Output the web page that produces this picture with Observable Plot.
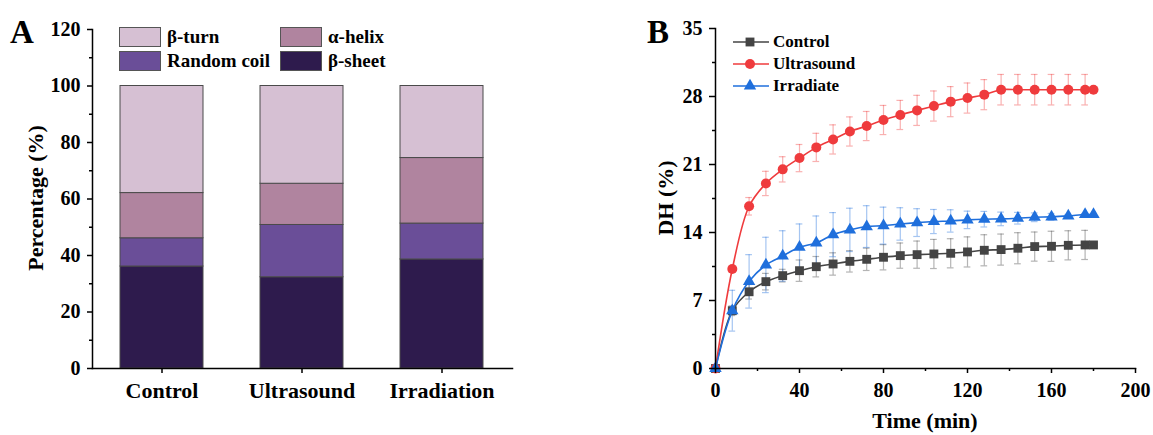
<!DOCTYPE html>
<html><head><meta charset="utf-8">
<script src="https://cdn.jsdelivr.net/npm/d3@7"></script>
<script src="https://cdn.jsdelivr.net/npm/@observablehq/plot@0.6"></script>
<style>
body{margin:0;background:#fff;}
#wrap{position:relative;width:1153px;height:435px;font-family:"Liberation Serif","Times New Roman",serif;font-weight:bold;color:#000;}
#wrap svg{position:absolute;top:0;}
.leg{position:absolute;display:flex;align-items:center;white-space:nowrap;}
</style></head><body><div id="wrap"></div>
<script>
// ---------- Panel A data ----------
const categories = ["Control", "Ultrasound", "Irradiation"];
const structures = ["β-sheet", "Random coil", "α-helix", "β-turn"];
const betaSheet  = [36.1, 32.3, 38.6];
const randomCoil = [10.0, 18.5, 12.7];
const alphaHelix = [16.0, 14.6, 23.2];
const betaTurn   = [37.9, 34.6, 25.5];
const structureColors = ["#2e1b4d", "#6a4e98", "#b0849f", "#d6c0d3"];
const legendOrderA = ["β-turn", "α-helix", "Random coil", "β-sheet"];
const yTicksA = [0, 20, 40, 60, 80, 100, 120];
const yMinorA = [10, 30, 50, 70, 90, 110];

// ---------- Panel B data ----------
const times = [0, 8, 16, 24, 32, 40, 48, 56, 64, 72, 80, 88, 96, 104, 112, 120, 128, 136, 144, 152, 160, 168, 176, 180];
const controlDH    = [0, 5.95, 7.9, 8.94, 9.56, 10.07, 10.48, 10.76, 11.03, 11.24, 11.45, 11.62, 11.72, 11.79, 11.86, 12.0, 12.17, 12.24, 12.38, 12.55, 12.58, 12.68, 12.72, 12.72];
const controlSD    = [0, 0.5, 0.75, 0.85, 0.65, 1.1, 1.05, 1.15, 1.1, 1.15, 1.3, 1.3, 1.4, 1.5, 1.5, 1.55, 1.6, 1.6, 1.6, 1.5, 1.55, 1.5, 1.5, 0];
const ultrasoundDH = [0, 10.24, 16.7, 19.05, 20.5, 21.66, 22.76, 23.58, 24.4, 24.96, 25.58, 26.1, 26.57, 27.02, 27.47, 27.84, 28.19, 28.7, 28.7, 28.7, 28.7, 28.7, 28.7, 28.7];
const ultrasoundSD = [0, 0.3, 0.9, 1.25, 1.3, 1.4, 1.45, 1.5, 1.5, 1.5, 1.5, 1.5, 1.55, 1.55, 1.55, 1.55, 1.55, 1.57, 1.57, 1.57, 1.57, 1.57, 1.57, 0];
const irradiateDH  = [0, 5.95, 8.97, 10.66, 11.58, 12.48, 12.93, 13.78, 14.27, 14.61, 14.71, 14.88, 15.02, 15.13, 15.19, 15.3, 15.37, 15.4, 15.47, 15.57, 15.61, 15.71, 15.85, 15.85];
const irradiateSD  = [0, 2.1, 2.75, 2.85, 2.6, 2.4, 2.77, 2.27, 2.23, 2.15, 1.9, 1.67, 1.43, 1.24, 1.15, 0.9, 0.8, 0.7, 0.6, 0.45, 0.35, 0.15, 0.1, 0];
const seriesNames  = ["Control", "Ultrasound", "Irradiate"];
const seriesColors = ["#444444", "#ef3b3d", "#1f6fdc"];
const seriesSymbols = ["square", "circle", "triangle"];
const seriesR = [5, 5, 4.6];
const xTicksB = [0, 40, 80, 120, 160, 200];
const xMinorB = [20, 60, 100, 140, 180];
const yTicksB = [0, 7, 14, 21, 28, 35];
const yMinorB = [3.5, 10.5, 17.5, 24.5, 31.5];

const serif = '"Liberation Serif","Times New Roman",serif';
const wrap = document.getElementById("wrap");

// ---------- Panel A ----------
const tableA = [];
[betaSheet, randomCoil, alphaHelix, betaTurn].forEach((vals, si) => {
  vals.forEach((v, ci) => tableA.push({group: categories[ci], structure: structures[si], value: v}));
});
const colorA = new Map(structures.map((s, i) => [s, structureColors[i]]));

const plotA = Plot.plot({
  width: 600, height: 435,
  marginLeft: 92, marginRight: 88, marginTop: 29, marginBottom: 67,
  style: {fontFamily: serif, fontWeight: "bold", fontSize: "20px", color: "#000", background: "transparent", overflow: "visible"},
  x: {type: "band", domain: categories, paddingInner: 0.407, paddingOuter: 0.2035, label: null},
  y: {domain: [0, 120], label: null},
  color: {domain: structures, range: structureColors},
  marks: [
    Plot.barY(tableA, {x: "group", y: "value", fill: "structure", stroke: "#4a4a4a", strokeWidth: 1, order: structures}),
    Plot.axisY({ticks: yMinorA, tickSize: 3, tickFormat: () => "", label: null, strokeWidth: 1.5}),
    Plot.axisY({ticks: yTicksA, tickSize: 5, tickPadding: 7, label: null, strokeWidth: 1.5}),
    Plot.axisX({tickSize: 5, tickPadding: 9, fontSize: 22, label: null, strokeWidth: 1.5}),
    Plot.frame({anchor: "left", strokeWidth: 1.5}),
    Plot.frame({anchor: "bottom", strokeWidth: 1.5})
  ]
});
plotA.style.left = "0px";
wrap.appendChild(plotA);

// ---------- Panel B ----------
const dhVals = [controlDH, ultrasoundDH, irradiateDH];
const sdVals = [controlSD, ultrasoundSD, irradiateSD];
const seriesData = seriesNames.map((name, si) =>
  times.map((t, i) => ({series: name, t, v: dhVals[si][i], sd: sdVals[si][i]})));

const marksB = [];
seriesData.forEach((data, si) => {
  const withErr = data.filter(d => d.sd > 0);
  const c = seriesColors[si];
  marksB.push(
    Plot.ruleX(withErr, {x: "t", y1: d => d.v - d.sd, y2: d => d.v + d.sd, stroke: c, strokeOpacity: 0.4, strokeWidth: 1.2}),
    Plot.ruleY(withErr, {y: d => d.v + d.sd, x1: d => d.t - 1.6, x2: d => d.t + 1.6, stroke: c, strokeOpacity: 0.4, strokeWidth: 1.2}),
    Plot.ruleY(withErr, {y: d => d.v - d.sd, x1: d => d.t - 1.6, x2: d => d.t + 1.6, stroke: c, strokeOpacity: 0.4, strokeWidth: 1.2})
  );
});
seriesData.forEach((data, si) => {
  const c = seriesColors[si];
  marksB.push(
    Plot.line(data, {x: "t", y: "v", stroke: c, strokeWidth: 1.6, curve: "catmull-rom"}),
    Plot.dot(data, {x: "t", y: "v", symbol: seriesSymbols[si], r: seriesR[si], fill: c, stroke: "none"})
  );
});

const plotB = Plot.plot({
  width: 553, height: 435,
  marginLeft: 115, marginRight: 18, marginTop: 28, marginBottom: 67,
  style: {fontFamily: serif, fontWeight: "bold", fontSize: "20px", color: "#000", background: "transparent", overflow: "visible"},
  x: {domain: [0, 200], label: null},
  y: {domain: [0, 35], label: null},
  marks: [
    ...marksB,
    Plot.axisY({ticks: yMinorB, tickSize: 3, tickFormat: () => "", label: null, strokeWidth: 1.5}),
    Plot.axisY({ticks: yTicksB, tickSize: 6, tickPadding: 7, label: null, strokeWidth: 1.5}),
    Plot.axisX({ticks: xMinorB, tickSize: 3, tickFormat: () => "", label: null, strokeWidth: 1.5}),
    Plot.axisX({ticks: xTicksB, tickSize: 5, tickPadding: 9, label: null, strokeWidth: 1.5}),
    Plot.frame({anchor: "left", strokeWidth: 1.5}),
    Plot.frame({anchor: "bottom", strokeWidth: 1.5})
  ]
});
plotB.style.left = "600px";
wrap.appendChild(plotB);

// ---------- Legend A ----------
legendOrderA.forEach((name, i) => {
  const col = i % 2, row = Math.floor(i / 2);
  const div = document.createElement("div");
  div.className = "leg";
  div.style.left = (119 + col * 161) + "px";
  div.style.top = (27 + row * 24) + "px";
  div.style.height = "20px";
  div.style.fontSize = "19px";
  div.innerHTML = `<span style="display:inline-block;width:40px;height:18px;background:${colorA.get(name)};border:1px solid #555;margin-right:6px"></span><span>${name}</span>`;
  wrap.appendChild(div);
});

// ---------- Legend B ----------
seriesNames.forEach((name, i) => {
  const div = document.createElement("div");
  div.className = "leg";
  div.style.left = "733px";
  div.style.top = (31 + i * 22) + "px";
  div.style.height = "22px";
  div.style.fontSize = "17px";
  const sym = d3.symbol(d3["symbol" + seriesSymbols[i][0].toUpperCase() + seriesSymbols[i].slice(1)], Math.PI * seriesR[i] * seriesR[i])();
  div.innerHTML = `<svg width="36" height="22" style="position:static;margin-right:4px"><line x1="0" x2="36" y1="11" y2="11" stroke="${seriesColors[i]}" stroke-width="1.6"/><path d="${sym}" transform="translate(17,11)" fill="${seriesColors[i]}"/></svg><span>${name}</span>`;
  wrap.appendChild(div);
});

// ---------- Titles / axis labels ----------
const ov = d3.select(wrap).append("svg").attr("width", 1153).attr("height", 435)
  .style("left", "0px").style("pointer-events", "none")
  .style("font-family", serif).style("font-weight", "bold");
ov.append("text").attr("x", 10).attr("y", 43).attr("font-size", 33).text("A");
ov.append("text").attr("x", 647).attr("y", 43).attr("font-size", 33).text("B");
ov.append("text").attr("transform", "translate(43,198) rotate(-90)").attr("text-anchor", "middle").attr("font-size", 22).text("Percentage (%)");
ov.append("text").attr("transform", "translate(673,198) rotate(-90)").attr("text-anchor", "middle").attr("font-size", 22).text("DH (%)");
ov.append("text").attr("x", 925).attr("y", 428).attr("text-anchor", "middle").attr("font-size", 22).text("Time (min)");
</script></body></html>
